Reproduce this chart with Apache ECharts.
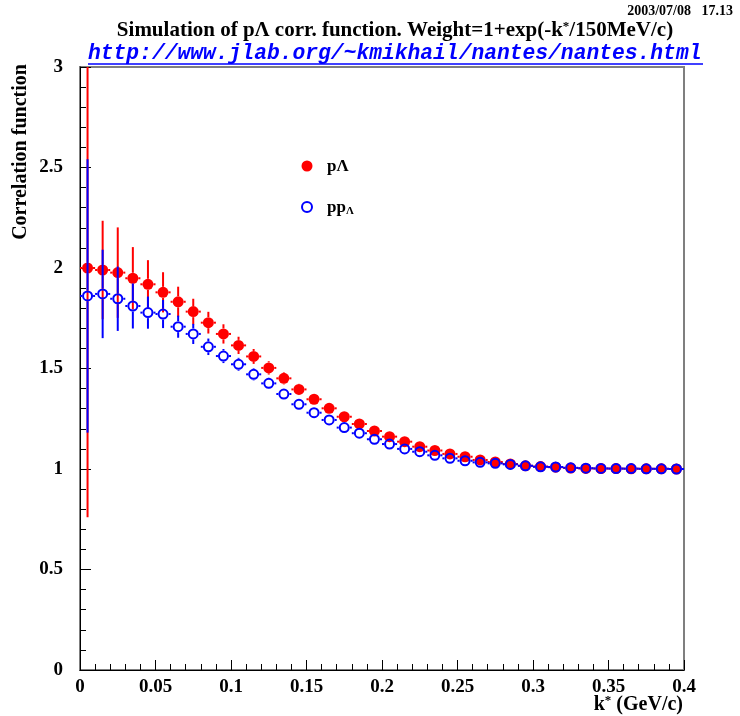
<!DOCTYPE html>
<html>
<head>
<meta charset="utf-8">
<script src="https://cdn.jsdelivr.net/npm/echarts@6/dist/echarts.min.js"></script>
<style>html,body{margin:0;padding:0;background:#fff;}#c{width:740px;height:716px;}</style>
</head>
<body>
<div id="c"></div>
<script>
// bin centres (GeV/c)
var kStar = [0.005,0.015,0.025,0.035,0.045,0.055,0.065,0.075,0.085,0.095,
             0.105,0.115,0.125,0.135,0.145,0.155,0.165,0.175,0.185,0.195,
             0.205,0.215,0.225,0.235,0.245,0.255,0.265,0.275,0.285,0.295,
             0.305,0.315,0.325,0.335,0.345,0.355,0.365,0.375,0.385,0.395];
var binHalfWidth = 0.005;
// p-Lambda
var pLambda = [2.000,1.990,1.977,1.949,1.919,1.879,1.832,1.783,1.728,1.672,
               1.615,1.560,1.503,1.451,1.396,1.347,1.302,1.260,1.224,1.189,
               1.161,1.136,1.111,1.092,1.075,1.061,1.045,1.035,1.025,1.016,
               1.012,1.009,1.005,1.003,1.002,1.002,1.001,1.001,1.001,1.000];
var pLambdaErr = [1.24,0.245,0.225,0.155,0.12,0.10,0.075,0.064,0.054,0.048,
                  0.043,0.037,0.033,0.030,0.028,0.026,0.024,0.022,0.020,0.019,
                  0.018,0.017,0.016,0.015,0.014,0.013,0.012,0.012,0.011,0.011,
                  0.010,0.010,0.010,0.010,0.010,0.010,0.010,0.010,0.010,0.010];
// pp_Lambda
var ppLambda = [1.861,1.871,1.847,1.811,1.778,1.771,1.708,1.672,1.608,1.562,
                1.521,1.471,1.426,1.373,1.322,1.280,1.244,1.206,1.178,1.148,
                1.124,1.100,1.086,1.068,1.053,1.041,1.033,1.028,1.023,1.016,
                1.011,1.010,1.006,1.004,1.003,1.002,1.002,1.001,1.001,1.000];
var ppLambdaErr = [0.68,0.22,0.16,0.112,0.08,0.07,0.055,0.05,0.041,0.035,
                   0.032,0.030,0.028,0.026,0.024,0.022,0.020,0.019,0.018,0.017,
                   0.016,0.015,0.014,0.013,0.012,0.012,0.011,0.011,0.010,0.010,
                   0.010,0.010,0.010,0.010,0.010,0.010,0.010,0.010,0.010,0.010];
var xTicks = [0,0.05,0.1,0.15,0.2,0.25,0.3,0.35,0.4];
var yTicks = [0,0.5,1,1.5,2,2.5,3];

var X_MIN = 0, X_MAX = 0.4, Y_MIN = 0, Y_MAX = 3;

function build(xs, ys, es) {
  return xs.map(function (x, i) { return [x, ys[i], es[i]]; });
}

function errRender(color, r) {
  return function (params, api) {
    var x = api.value(0), y = api.value(1), e = api.value(2);
    var c = api.coord([x, y]);
    var top = api.coord([x, Math.min(y + e, Y_MAX)]);
    var bot = api.coord([x, Math.max(y - e, Y_MIN)]);
    var lft = api.coord([Math.max(x - binHalfWidth, X_MIN), y]);
    var rgt = api.coord([Math.min(x + binHalfWidth, X_MAX), y]);
    var st = { stroke: color, lineWidth: 2 };
    var ch = [];
    if (top[1] < c[1] - r) ch.push({ type: 'line', shape: { x1: c[0], y1: top[1], x2: c[0], y2: c[1] - r }, style: st });
    if (bot[1] > c[1] + r) ch.push({ type: 'line', shape: { x1: c[0], y1: c[1] + r, x2: c[0], y2: bot[1] }, style: st });
    if (lft[0] < c[0] - r) ch.push({ type: 'line', shape: { x1: lft[0], y1: c[1], x2: c[0] - r, y2: c[1] }, style: st });
    if (rgt[0] > c[0] + r) ch.push({ type: 'line', shape: { x1: c[0] + r, y1: c[1], x2: rgt[0], y2: c[1] }, style: st });
    return { type: 'group', children: ch };
  };
}

var FONT = 'Liberation Serif';
var chart = echarts.init(document.getElementById('c'), null, { renderer: 'canvas' });
var option = {
  animation: false,
  backgroundColor: '#fff',
  grid: { left: 80, right: 56, top: 67, bottom: 46, show: true, borderColor: '#7f7f7f', borderWidth: 2, backgroundColor: 'transparent' },
  xAxis: {
    type: 'value', min: X_MIN, max: X_MAX, interval: 0.05,
    axisLine: { show: true, onZero: false, lineStyle: { color: '#000', width: 1 } },
    axisTick: { show: true, inside: true, length: 10, lineStyle: { color: '#000' } },
    minorTick: { show: true, splitNumber: 5, length: 6, lineStyle: { color: '#000' } },
    splitLine: { show: false },
    axisLabel: {
      margin: 8, color: '#000', fontFamily: FONT, fontWeight: 'bold', fontSize: 19,
      formatter: function (v) { var t = xTicks.filter(function (q) { return Math.abs(q - v) < 1e-9; }); return t.length ? String(t[0]) : ''; }
    }
  },
  yAxis: {
    type: 'value', min: Y_MIN, max: Y_MAX, interval: 0.5,
    axisLine: { show: true, onZero: false, lineStyle: { color: '#000', width: 1 } },
    axisTick: { show: true, inside: true, length: 11, lineStyle: { color: '#000' } },
    minorTick: { show: true, splitNumber: 5, length: 6, lineStyle: { color: '#000' } },
    splitLine: { show: false },
    axisLabel: {
      margin: 17, color: '#000', fontFamily: FONT, fontWeight: 'bold', fontSize: 19,
      formatter: function (v) { var t = yTicks.filter(function (q) { return Math.abs(q - v) < 1e-9; }); return t.length ? String(t[0]) : ''; }
    }
  },
  series: [
    { type: 'custom', name: 'pL_err', data: build(kStar, pLambda, pLambdaErr), renderItem: errRender('#ff0000', 5.5), z: 2, clip: true },
    { type: 'scatter', name: 'pΛ', data: build(kStar, pLambda, pLambdaErr), symbol: 'circle', symbolSize: 11,
      itemStyle: { color: '#ff0000', opacity: 1 }, z: 3 },
    { type: 'custom', name: 'ppL_err', data: build(kStar, ppLambda, ppLambdaErr), renderItem: errRender('#0000ff', 5.5), z: 4, clip: true },
    { type: 'scatter', name: 'ppΛ', data: build(kStar, ppLambda, ppLambdaErr), symbol: 'circle', symbolSize: 9,
      itemStyle: { color: 'rgba(0,0,0,0)', borderColor: '#0000ff', borderWidth: 2, opacity: 1 }, z: 5 }
  ],
  graphic: [
    { type: 'text', right: 7, top: 4, style: { text: '2003/07/08   17.13', fill: '#000', font: 'bold 14px "Liberation Serif"' } },
    { type: 'text', x: 395, y: 31, style: {
        text: '{a|Simulation of pΛ corr. function. Weight=1+exp(-k}{s|*}{a|/150MeV/c)}',
        align: 'center', verticalAlign: 'middle',
        rich: {
          a: { fontFamily: FONT, fontWeight: 'bold', fontSize: 21, fill: '#000', lineHeight: 22 },
          s: { fontFamily: FONT, fontWeight: 'bold', fontSize: 13, fill: '#000', lineHeight: 22, verticalAlign: 'top', padding: [0, 0, 9, 0] }
        } } },
    { type: 'text', x: 88, y: 54, style: { text: 'http://www.jlab.org/~kmikhail/nantes/nantes.html', fill: '#0000ff',
        font: 'italic bold 21.3px "Liberation Mono"', verticalAlign: 'middle', align: 'left' } },
    { type: 'line', shape: { x1: 88, y1: 64, x2: 703, y2: 64 }, style: { stroke: '#0000ff', lineWidth: 1.5 } },
    { type: 'text', x: 21, y: 152, rotation: Math.PI / 2, style: { text: 'Correlation function', fill: '#000',
        font: 'bold 20px "Liberation Serif"', align: 'center', verticalAlign: 'middle' } },
    { type: 'text', x: 683, y: 705, style: {
        text: '{a|k}{s|*}{a| (GeV/c)}', align: 'right', verticalAlign: 'middle',
        rich: {
          a: { fontFamily: FONT, fontWeight: 'bold', fontSize: 20, fill: '#000', lineHeight: 22 },
          s: { fontFamily: FONT, fontWeight: 'bold', fontSize: 13, fill: '#000', lineHeight: 22, verticalAlign: 'top', padding: [0, 0, 9, 0] }
        } } },
    { type: 'circle', shape: { cx: 307, cy: 166, r: 5.5 }, style: { fill: '#ff0000' } },
    { type: 'text', x: 327, y: 167, style: { text: 'pΛ', fill: '#000', font: 'bold 17px "Liberation Serif"', verticalAlign: 'middle' } },
    { type: 'circle', shape: { cx: 307, cy: 207, r: 5 }, style: { fill: 'none', stroke: '#0000ff', lineWidth: 2 } },
    { type: 'text', x: 327, y: 208, style: {
        text: '{a|pp}{b|Λ}', verticalAlign: 'middle',
        rich: {
          a: { fontFamily: FONT, fontWeight: 'bold', fontSize: 17, fill: '#000', lineHeight: 18 },
          b: { fontFamily: FONT, fontWeight: 'bold', fontSize: 11, fill: '#000', lineHeight: 18, verticalAlign: 'bottom', padding: [8, 0, 0, 0] }
        } } }
  ]
};
chart.setOption(option);
</script>
</body>
</html>
